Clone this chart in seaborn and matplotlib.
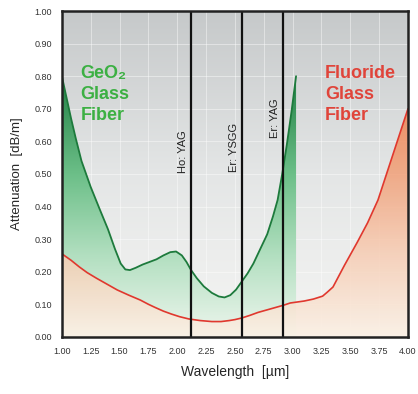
import matplotlib
matplotlib.use("Agg")
import matplotlib.pyplot as plt
from matplotlib.colors import LinearSegmentedColormap
import numpy as np
import pandas as pd
import seaborn as sns

# GeO2 glass fiber attenuation (dB/m) vs wavelength (um)
geo2_wl = [1.00, 1.04, 1.08, 1.12, 1.17, 1.25, 1.33, 1.40, 1.46, 1.51, 1.55, 1.59, 1.64,
           1.70, 1.76, 1.82, 1.88, 1.94, 1.99, 2.04, 2.08, 2.12, 2.17, 2.23, 2.30, 2.36,
           2.41, 2.46, 2.51, 2.56, 2.61, 2.66, 2.72, 2.78, 2.83, 2.87, 2.91, 2.95, 2.99, 3.03]
geo2_att = [0.80, 0.735, 0.67, 0.61, 0.54, 0.46, 0.39, 0.33, 0.27, 0.225, 0.207, 0.205, 0.212,
            0.222, 0.23, 0.238, 0.25, 0.26, 0.262, 0.25, 0.23, 0.205, 0.18, 0.155, 0.135, 0.124,
            0.121, 0.128, 0.145, 0.17, 0.195, 0.225, 0.27, 0.315, 0.37, 0.42, 0.50, 0.59, 0.69, 0.80]

# fluoride glass fiber
fluo_wl = [1.00, 1.08, 1.15, 1.22, 1.30, 1.39, 1.48, 1.58, 1.68, 1.75, 1.81, 1.88, 1.95,
           2.02, 2.10, 2.20, 2.30, 2.38, 2.45, 2.50, 2.56, 2.63, 2.70, 2.78, 2.85, 2.92,
           2.98, 3.04, 3.10, 3.18, 3.26, 3.30, 3.35, 3.45, 3.56, 3.65, 3.74, 3.87, 4.00]
fluo_att = [0.255, 0.235, 0.215, 0.197, 0.18, 0.162, 0.144, 0.128, 0.113, 0.10, 0.09, 0.079, 0.07,
            0.062, 0.055, 0.05, 0.047, 0.047, 0.05, 0.053, 0.058, 0.066, 0.075, 0.083, 0.09, 0.097,
            0.104, 0.107, 0.11, 0.116, 0.125, 0.137, 0.153, 0.22, 0.29, 0.35, 0.42, 0.56, 0.70]

lasers = ["Ho: YAG", "Er: YSGG", "Er: YAG"]
laser_wl = [2.12, 2.56, 2.92]
laser_label_y = [0.57, 0.58, 0.67]

xticks = [1.00, 1.25, 1.50, 1.75, 2.00, 2.25, 2.50, 2.75, 3.00, 3.25, 3.50, 3.75, 4.00]
yticks = [0.0, 0.1, 0.2, 0.3, 0.4, 0.5, 0.6, 0.7, 0.8, 0.9, 1.0]

sns.set_style("white")
plt.rcParams['font.family'] = ['Liberation Sans', 'DejaVu Sans']

fig = plt.figure(figsize=(4.18, 3.94), dpi=100)
ax = fig.add_axes([0.148, 0.145, 0.828, 0.827])
ax.set_xlim(1, 4)
ax.set_ylim(0, 1)

# background gradient
bg = LinearSegmentedColormap.from_list("bg", ["#f5f5f3", "#e4e6e6", "#c6c9ca"])
grad = np.linspace(0, 1, 256).reshape(-1, 1)
ax.imshow(grad, extent=[1, 4, 0, 1], origin="lower", aspect="auto", cmap=bg, zorder=0)
for x in xticks[1:-1]:
    ax.axvline(x, color="white", lw=0.6, alpha=0.5, zorder=0.5)
for y in yticks[1:-1]:
    ax.axhline(y, color="white", lw=0.6, alpha=0.5, zorder=0.5)

# gradient fills under the curves
green = LinearSegmentedColormap.from_list("g", ["#eef6ee", "#b2dfc0", "#6cbf88", "#2e8b50", "#2e8b50"])
orange = LinearSegmentedColormap.from_list("o", ["#fbf0e4", "#f7cdb4", "#f2a078", "#ee7a45", "#ee7a45"])

poly = ax.fill_between(geo2_wl, geo2_att, 0, color="none", zorder=1)
im = ax.imshow(grad, extent=[1, 4, 0, 1], origin="lower", aspect="auto", cmap=green, zorder=1)
im.set_clip_path(poly.get_paths()[0], transform=ax.transData)

poly2 = ax.fill_between(fluo_wl, fluo_att, 0, color="none", zorder=2)
im2 = ax.imshow(grad, extent=[1, 4, 0, 1], origin="lower", aspect="auto", cmap=orange,
                alpha=0.85, zorder=2)
im2.set_clip_path(poly2.get_paths()[0], transform=ax.transData)

sns.lineplot(x=geo2_wl, y=geo2_att, ax=ax, color="#1d7a3c", lw=1.3, zorder=3)
sns.lineplot(x=fluo_wl, y=fluo_att, ax=ax, color="#e0382e", lw=1.2, zorder=3)

for name, wl, ly in zip(lasers, laser_wl, laser_label_y):
    ax.axvline(wl, color="#111111", lw=1.6, zorder=4)
    ax.text(wl - 0.025, ly, name, rotation=90, ha="right", va="center", fontsize=8, color="#222222")

ax.text(1.16, 0.745, "GeO\u2082\nGlass\nFiber", color="#3cb043", fontsize=13, fontweight="bold",
        va="center", ha="left", linespacing=1.3)
ax.text(3.28, 0.745, "Fluoride\nGlass\nFiber", color="#e0443a", fontsize=13, fontweight="bold",
        va="center", ha="left", linespacing=1.3)

ax.set_xticks(xticks)
ax.set_xticklabels([f"{v:.2f}" for v in xticks])
ax.set_yticks(yticks)
ax.set_yticklabels([f"{v:.2f}" for v in yticks])
ax.tick_params(labelsize=6.5, labelcolor="#333333", length=0, pad=7)
ax.set_xlabel("Wavelength  [\u00b5m]", fontsize=10, labelpad=7)
ax.set_ylabel("Attenuation  [dB/m]", fontsize=9.5, labelpad=8)
for s in ax.spines.values():
    s.set_visible(True)
    s.set_color("#222222")
    s.set_linewidth(1.8)
    s.set_zorder(5)

fig.savefig("out.png", dpi=100)
